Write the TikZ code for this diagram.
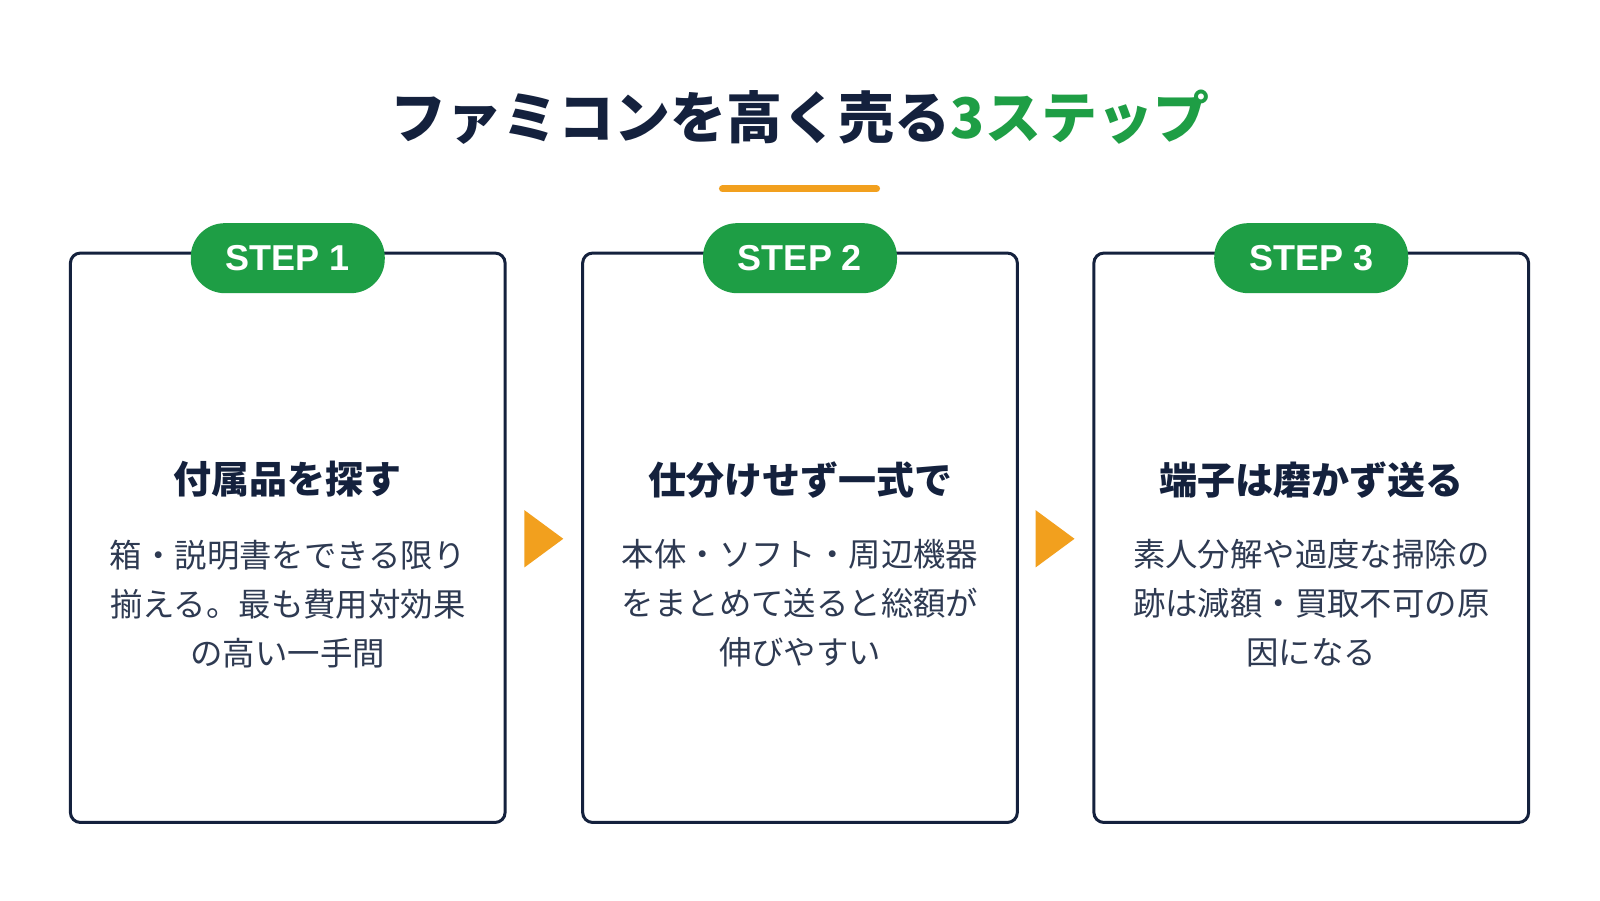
\documentclass[tikz,border=0pt]{standalone}
\usepackage{fontspec}
\setmainfont{Noto Sans CJK JP}
\newfontfamily\cjk{Noto Sans CJK JP}
\newfontfamily\cjkb{Noto Sans CJK JP Black}
\newfontfamily\latn{Liberation Sans}
\begin{document}
\definecolor{navy}{HTML}{14213D}
\definecolor{grn}{HTML}{1E9E45}
\definecolor{org}{HTML}{F2A01E}
\definecolor{body}{HTML}{2E3A52}
\begin{tikzpicture}[x=0.5102pt,y=-0.5102pt,
 card/.style={draw=navy,line width=1.5pt,rounded corners=5pt,fill=white},
 pill/.style={fill=grn,rounded corners=17pt,minimum width=97pt,minimum height=35pt,text=white,font=\latn\fontsize{18}{18}\bfseries},
 head/.style={text=navy,font=\cjkb\fontsize{19}{19}\selectfont},
 txt/.style={text=body,font=\cjk\fontsize{16.2}{24.5}\selectfont,align=center},
 arr/.style={fill=org}]
\useasboundingbox (0,0) rectangle (1568,882);
\fill[white] (0,0) rectangle (1568,882);
\node[font=\cjkb\fontsize{28}{28}\selectfont] (title) at (784,115) {\textcolor{navy}{ファミコンを高く売る}\textcolor{grn}{3ステップ}};
\draw[org,line width=3.5pt,line cap=round] (708,185) -- (859,185);
\foreach \i/\x/\h/\t in {1/282/付属品を探す/{箱・説明書をできる限り\\揃える。最も費用対効果\\の高い一手間},
 2/784/仕分けせず一式で/{本体・ソフト・周辺機器\\をまとめて送ると総額が\\伸びやすい},
 3/1285/端子は磨かず送る/{素人分解や過度な掃除の\\跡は減額・買取不可の原\\因になる}}{
 \draw[card] (\x-213,248) rectangle (\x+213,806);
 \node[pill] (p\i) at (\x,253) {STEP \i};
 \node[head] (h\i) at (\x,470) {\h};
 \node[txt,anchor=north] (t\i) at (\x,522) {\t};
}
\fill[arr] (514,500) -- (552,528) -- (514,556) -- cycle;
\fill[arr] (1015,500) -- (1053,528) -- (1015,556) -- cycle;
\end{tikzpicture}
\end{document}
